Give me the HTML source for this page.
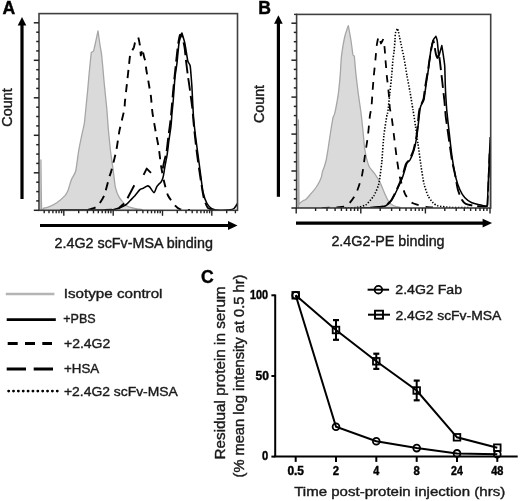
<!DOCTYPE html><html><head><meta charset="utf-8"><style>html,body{margin:0;padding:0;background:#fff;}svg{display:block;will-change:transform;}text{font-family:"Liberation Sans",sans-serif;}</style></head><body>
<svg width="520" height="501" viewBox="0 0 520 501">
<rect width="520" height="501" fill="#fff"/>
<defs>
<clipPath id="ca"><rect x="39" y="13.6" width="198.5" height="196.70000000000002"/></clipPath>
<clipPath id="cb"><rect x="296.6" y="14.4" width="194.09999999999997" height="193.6"/></clipPath>
</defs>
<g clip-path="url(#ca)">
<path d="M40.9,160.0 C41.0,164.8 41.3,202.8 41.6,207.6 C41.9,212.4 43.4,208.0 44.0,208.0 C44.6,208.0 46.2,207.8 47.5,207.3 C48.8,206.8 55.0,203.9 56.8,202.7 C58.6,201.5 64.1,196.6 65.2,195.4 C66.3,194.2 67.5,191.6 68.0,190.5 C68.5,189.4 69.4,185.7 69.8,184.6 C70.2,183.5 71.0,180.6 71.6,179.2 C72.2,177.8 75.0,173.8 75.7,171.0 C76.4,168.2 78.0,154.8 78.7,150.7 C79.4,146.6 82.2,133.2 82.8,130.4 C83.4,127.6 84.1,125.3 84.4,123.0 C84.7,120.7 85.7,110.2 86.0,107.0 C86.3,103.8 87.3,94.2 87.6,91.0 C87.9,87.8 88.7,78.6 89.0,75.0 C89.3,71.4 90.8,57.3 91.0,55.0 C91.2,52.7 91.4,52.7 91.4,52.4 C91.6,52.3 93.4,51.1 93.6,51.0 C93.7,50.4 94.6,47.0 95.0,45.0 C95.4,43.0 97.7,32.4 98.0,31.0 C98.2,32.4 99.7,42.8 100.0,45.0 C100.3,47.2 101.1,51.0 101.4,53.0 C101.7,55.0 102.3,62.2 102.6,65.0 C102.9,67.8 103.7,77.8 104.0,81.0 C104.3,84.2 105.3,94.0 105.6,97.0 C105.9,100.0 106.8,108.2 107.0,111.0 C107.2,113.8 107.7,121.0 108.0,125.0 C108.3,129.0 110.0,146.1 110.5,150.7 C111.0,155.3 112.8,167.3 113.3,171.0 C113.8,174.7 114.8,184.7 115.4,187.4 C116.0,190.1 118.3,195.8 119.4,197.6 C120.5,199.4 125.1,204.6 126.6,205.7 C128.1,206.8 133.2,208.1 134.7,208.5 C136.2,208.9 141.3,209.5 142.0,209.6 L142.0,210.3 L40.9,210.3 Z" fill="#dadada" stroke="#a6a6a6" stroke-width="1.3" stroke-linejoin="round"/>
<path d="M88.0,210.0 C88.5,209.8 92.0,208.9 93.0,208.5 C94.0,208.1 96.9,207.0 98.0,205.7 C99.1,204.4 103.1,198.4 104.2,195.5 C105.3,192.6 108.6,179.4 109.3,177.0 C110.0,174.6 110.6,173.7 111.3,171.0 C112.0,168.3 115.6,154.1 116.4,150.0 C117.2,145.9 118.7,134.4 119.5,130.4 C120.3,126.4 123.7,112.9 124.2,110.0 C124.8,107.1 124.7,103.7 125.0,101.0 C125.3,98.3 126.6,86.6 127.0,83.0 C127.4,79.4 128.7,67.7 129.0,65.0 C129.3,62.3 129.7,57.4 130.0,56.0 C130.3,54.6 131.4,52.1 131.8,51.2 C132.2,50.3 133.5,48.3 133.9,47.3 C134.3,46.2 135.0,41.7 135.4,40.7 C135.8,39.7 138.0,37.8 138.3,37.5 C138.5,38.2 139.6,43.2 139.8,45.0 C140.1,46.8 140.7,54.4 140.8,55.4 C141.0,54.7 142.2,49.5 142.3,48.8 C142.5,49.6 143.8,55.9 144.1,57.1 C144.4,58.4 145.1,59.9 145.3,61.3 C145.5,62.7 146.1,68.6 146.5,71.0 C146.9,73.4 148.6,82.4 149.0,85.0 C149.4,87.6 150.7,94.2 151.0,97.0 C151.3,99.8 152.0,109.5 152.5,113.0 C153.0,116.5 155.2,128.8 155.8,132.4 C156.4,136.0 158.4,145.4 158.9,148.7 C159.4,152.0 160.4,161.7 160.9,165.0 C161.4,168.3 163.3,178.2 164.0,181.3 C164.7,184.4 166.9,193.1 168.0,195.5 C169.1,197.9 174.0,204.3 175.2,205.7 C176.4,207.1 178.8,208.9 180.3,209.3 C181.8,209.7 189.0,209.9 190.0,210.0" fill="none" stroke="#000" stroke-width="1.9" stroke-dasharray="8,6.3" stroke-linecap="butt" stroke-linejoin="round"/>
<path d="M162.7,168.5 C162.9,167.8 163.9,162.7 164.3,161.0 C164.7,159.3 166.1,154.4 166.5,152.0 C166.9,149.6 167.9,140.0 168.3,137.0 C168.7,134.0 169.9,125.3 170.3,122.0 C170.7,118.7 171.7,107.8 172.0,104.0 C172.3,100.2 173.4,88.1 173.8,84.0 C174.2,79.9 175.6,66.9 176.0,63.0 C176.4,59.1 177.6,47.8 178.0,45.0 C178.4,42.2 179.6,35.9 180.0,35.0 C180.4,34.1 181.6,34.8 182.0,36.0 C182.4,37.2 184.1,44.7 184.5,47.0 C184.9,49.3 185.5,56.2 185.8,59.0 C186.1,61.8 187.4,72.0 187.8,75.0 C188.2,78.0 189.4,85.8 189.8,89.0 C190.2,92.2 191.8,103.7 192.2,107.0 C192.6,110.3 193.1,117.6 193.5,122.0 C193.9,126.4 195.9,145.4 196.6,150.7 C197.2,156.0 199.3,170.3 200.0,175.0 C200.7,179.7 202.9,194.3 203.7,197.6 C204.5,200.9 206.7,206.6 207.8,207.8 C208.9,209.0 214.3,209.8 215.0,210.0" fill="none" stroke="#000" stroke-width="1.9" stroke-dasharray="13,5" stroke-linecap="butt" stroke-linejoin="round"/>
<path d="M105,210 L112,209.6" fill="none" stroke="#000" stroke-width="1.9" stroke-linejoin="round"/>
<path d="M119,208 L124,203.5" fill="none" stroke="#000" stroke-width="1.9" stroke-linejoin="round"/>
<path d="M127.5,198.3 L134.3,185.3" fill="none" stroke="#000" stroke-width="1.9" stroke-linejoin="round"/>
<path d="M143.6,174.8 L146.7,168.6 L151,172.9" fill="none" stroke="#000" stroke-width="1.9" stroke-linejoin="round"/>
<path d="M60.0,210.0 C64.0,210.0 94.6,210.0 100.0,210.0 C105.4,210.0 111.4,210.1 114.0,209.6 C116.6,209.1 124.0,205.9 125.6,205.0 C127.2,204.1 129.1,201.6 130.0,200.7 C130.9,199.8 133.9,196.9 134.9,195.8 C135.9,194.7 139.1,190.3 139.9,189.6 C140.7,188.9 142.2,188.8 142.9,188.4 C143.6,188.0 146.6,186.0 147.3,185.9 C148.0,185.8 149.1,186.4 149.8,187.1 C150.5,187.8 153.4,192.7 154.1,192.7 C154.8,192.7 156.2,187.9 156.6,187.1 C157.0,186.3 158.0,185.2 158.4,184.7 C158.8,184.2 160.5,182.8 160.9,182.2 C161.3,181.6 162.4,179.5 162.7,178.5 C163.0,177.5 163.8,173.7 164.0,172.3 C164.2,170.9 164.9,166.6 165.2,164.9 C165.5,163.2 166.7,157.5 167.1,155.0 C167.5,152.5 168.6,142.9 169.0,140.0 C169.4,137.1 170.7,128.7 171.0,126.0 C171.3,123.3 171.8,115.5 172.0,113.0 C172.2,110.5 172.9,104.6 173.2,101.0 C173.5,97.4 174.6,80.8 175.0,77.0 C175.4,73.2 176.6,66.4 177.0,63.0 C177.4,59.6 178.5,46.0 179.0,43.0 C179.5,40.0 181.6,34.0 181.9,33.0 C182.2,34.0 184.2,40.2 184.8,43.0 C185.4,45.8 187.3,58.7 187.8,61.0 C188.3,63.3 189.8,63.6 190.2,66.0 C190.6,68.4 191.5,81.1 191.8,85.0 C192.1,88.9 192.6,101.5 192.8,104.8 C193.0,108.1 193.3,114.5 193.6,118.0 C193.9,121.5 195.4,135.2 196.0,140.0 C196.6,144.8 198.8,160.8 199.5,166.0 C200.2,171.2 202.2,188.2 203.0,192.0 C203.8,195.8 206.1,201.8 207.0,203.5 C207.9,205.2 211.0,208.2 212.0,208.8 C213.0,209.5 215.2,209.9 217.0,210.0 C218.8,210.1 228.3,210.0 230.0,209.8 C231.7,209.7 233.2,209.1 234.0,208.5 C234.8,207.9 237.2,204.0 237.5,203.5" fill="none" stroke="#000" stroke-width="1.55" stroke-linejoin="round"/>
</g>
<rect x="39" y="13.6" width="198.5" height="196.70000000000002" fill="none" stroke="#404040" stroke-width="1.6"/>
<line x1="33.8" y1="22.8" x2="39" y2="22.8" stroke="#222" stroke-width="1.5"/>
<line x1="36.2" y1="32.2" x2="39" y2="32.2" stroke="#222" stroke-width="1.5"/>
<line x1="36.2" y1="41.5" x2="39" y2="41.5" stroke="#222" stroke-width="1.5"/>
<line x1="36.2" y1="50.9" x2="39" y2="50.9" stroke="#222" stroke-width="1.5"/>
<line x1="33.8" y1="60.3" x2="39" y2="60.3" stroke="#222" stroke-width="1.5"/>
<line x1="36.2" y1="69.7" x2="39" y2="69.7" stroke="#222" stroke-width="1.5"/>
<line x1="36.2" y1="79.0" x2="39" y2="79.0" stroke="#222" stroke-width="1.5"/>
<line x1="36.2" y1="88.4" x2="39" y2="88.4" stroke="#222" stroke-width="1.5"/>
<line x1="33.8" y1="97.8" x2="39" y2="97.8" stroke="#222" stroke-width="1.5"/>
<line x1="36.2" y1="107.2" x2="39" y2="107.2" stroke="#222" stroke-width="1.5"/>
<line x1="36.2" y1="116.5" x2="39" y2="116.5" stroke="#222" stroke-width="1.5"/>
<line x1="36.2" y1="125.9" x2="39" y2="125.9" stroke="#222" stroke-width="1.5"/>
<line x1="33.8" y1="135.3" x2="39" y2="135.3" stroke="#222" stroke-width="1.5"/>
<line x1="36.2" y1="144.7" x2="39" y2="144.7" stroke="#222" stroke-width="1.5"/>
<line x1="36.2" y1="154.1" x2="39" y2="154.1" stroke="#222" stroke-width="1.5"/>
<line x1="36.2" y1="163.4" x2="39" y2="163.4" stroke="#222" stroke-width="1.5"/>
<line x1="33.8" y1="172.8" x2="39" y2="172.8" stroke="#222" stroke-width="1.5"/>
<line x1="36.2" y1="182.2" x2="39" y2="182.2" stroke="#222" stroke-width="1.5"/>
<line x1="36.2" y1="191.6" x2="39" y2="191.6" stroke="#222" stroke-width="1.5"/>
<line x1="36.2" y1="200.9" x2="39" y2="200.9" stroke="#222" stroke-width="1.5"/>
<line x1="33.8" y1="210.3" x2="39" y2="210.3" stroke="#222" stroke-width="1.5"/>
<line x1="44.2" y1="210.3" x2="44.2" y2="213.3" stroke="#222" stroke-width="1.4"/>
<line x1="49.0" y1="210.3" x2="49.0" y2="213.3" stroke="#222" stroke-width="1.4"/>
<line x1="52.9" y1="210.3" x2="52.9" y2="213.3" stroke="#222" stroke-width="1.4"/>
<line x1="56.2" y1="210.3" x2="56.2" y2="213.3" stroke="#222" stroke-width="1.4"/>
<line x1="59.0" y1="210.3" x2="59.0" y2="213.3" stroke="#222" stroke-width="1.4"/>
<line x1="61.6" y1="210.3" x2="61.6" y2="213.3" stroke="#222" stroke-width="1.4"/>
<line x1="63.8" y1="210.3" x2="63.8" y2="215.8" stroke="#222" stroke-width="1.4"/>
<line x1="78.7" y1="210.3" x2="78.7" y2="213.3" stroke="#222" stroke-width="1.4"/>
<line x1="87.4" y1="210.3" x2="87.4" y2="213.3" stroke="#222" stroke-width="1.4"/>
<line x1="93.5" y1="210.3" x2="93.5" y2="213.3" stroke="#222" stroke-width="1.4"/>
<line x1="98.3" y1="210.3" x2="98.3" y2="213.3" stroke="#222" stroke-width="1.4"/>
<line x1="102.2" y1="210.3" x2="102.2" y2="213.3" stroke="#222" stroke-width="1.4"/>
<line x1="105.5" y1="210.3" x2="105.5" y2="213.3" stroke="#222" stroke-width="1.4"/>
<line x1="108.4" y1="210.3" x2="108.4" y2="213.3" stroke="#222" stroke-width="1.4"/>
<line x1="110.9" y1="210.3" x2="110.9" y2="213.3" stroke="#222" stroke-width="1.4"/>
<line x1="113.2" y1="210.3" x2="113.2" y2="215.8" stroke="#222" stroke-width="1.4"/>
<line x1="128.0" y1="210.3" x2="128.0" y2="213.3" stroke="#222" stroke-width="1.4"/>
<line x1="136.7" y1="210.3" x2="136.7" y2="213.3" stroke="#222" stroke-width="1.4"/>
<line x1="142.9" y1="210.3" x2="142.9" y2="213.3" stroke="#222" stroke-width="1.4"/>
<line x1="147.6" y1="210.3" x2="147.6" y2="213.3" stroke="#222" stroke-width="1.4"/>
<line x1="151.5" y1="210.3" x2="151.5" y2="213.3" stroke="#222" stroke-width="1.4"/>
<line x1="154.8" y1="210.3" x2="154.8" y2="213.3" stroke="#222" stroke-width="1.4"/>
<line x1="157.7" y1="210.3" x2="157.7" y2="213.3" stroke="#222" stroke-width="1.4"/>
<line x1="160.2" y1="210.3" x2="160.2" y2="213.3" stroke="#222" stroke-width="1.4"/>
<line x1="162.5" y1="210.3" x2="162.5" y2="215.8" stroke="#222" stroke-width="1.4"/>
<line x1="177.3" y1="210.3" x2="177.3" y2="213.3" stroke="#222" stroke-width="1.4"/>
<line x1="186.0" y1="210.3" x2="186.0" y2="213.3" stroke="#222" stroke-width="1.4"/>
<line x1="192.2" y1="210.3" x2="192.2" y2="213.3" stroke="#222" stroke-width="1.4"/>
<line x1="197.0" y1="210.3" x2="197.0" y2="213.3" stroke="#222" stroke-width="1.4"/>
<line x1="200.9" y1="210.3" x2="200.9" y2="213.3" stroke="#222" stroke-width="1.4"/>
<line x1="204.2" y1="210.3" x2="204.2" y2="213.3" stroke="#222" stroke-width="1.4"/>
<line x1="207.0" y1="210.3" x2="207.0" y2="213.3" stroke="#222" stroke-width="1.4"/>
<line x1="209.6" y1="210.3" x2="209.6" y2="213.3" stroke="#222" stroke-width="1.4"/>
<line x1="211.8" y1="210.3" x2="211.8" y2="215.8" stroke="#222" stroke-width="1.4"/>
<line x1="226.7" y1="210.3" x2="226.7" y2="213.3" stroke="#222" stroke-width="1.4"/>
<line x1="235.4" y1="210.3" x2="235.4" y2="213.3" stroke="#222" stroke-width="1.4"/>
<line x1="22" y1="24" x2="22" y2="199" stroke="#000" stroke-width="3.2"/>
<polygon points="17.7,25.5 26.3,25.5 22,17" fill="#000"/>
<line x1="40" y1="225.5" x2="229.5" y2="225.5" stroke="#000" stroke-width="3.2"/>
<polygon points="228.0,221.1 228.0,229.9 237.5,225.5" fill="#000"/>
<text x="2.6" y="13.6" font-size="17.6" font-weight="bold" text-anchor="start" fill="#000" stroke="#000" stroke-width="0.4">A</text>
<text x="12.1" y="107.5" font-size="13.8" font-weight="normal" text-anchor="middle" fill="#1a1a1a" stroke="#1a1a1a" stroke-width="0.4" textLength="38.5" lengthAdjust="spacingAndGlyphs" transform="rotate(-90 12.1 107.5)">Count</text>
<text x="54.5" y="248.1" font-size="13.9" font-weight="normal" text-anchor="start" fill="#1a1a1a" stroke="#1a1a1a" stroke-width="0.4" textLength="158.4" lengthAdjust="spacingAndGlyphs">2.4G2 scFv-MSA binding</text>
<g clip-path="url(#cb)">
<path d="M298.4,120.0 C298.5,128.0 298.9,191.7 299.0,200.0 C299.1,208.3 299.3,202.9 299.7,203.0 C300.1,203.1 302.7,200.9 303.3,200.5 C303.9,200.1 305.3,199.9 305.9,199.4 C306.5,198.9 308.9,196.1 309.6,195.3 C310.3,194.5 312.5,191.9 313.2,191.1 C313.9,190.3 315.7,187.9 316.3,187.0 C316.9,186.1 318.9,182.8 319.4,181.8 C319.9,180.8 321.2,177.6 321.5,176.6 C321.8,175.6 322.2,172.3 322.5,171.4 C322.8,170.5 323.7,168.4 324.1,167.3 C324.5,166.2 325.8,161.7 326.2,160.0 C326.6,158.3 327.4,153.0 327.9,150.0 C328.4,147.0 330.4,133.2 330.9,130.0 C331.4,126.8 332.7,119.2 332.9,118.0 C333.1,117.6 334.3,114.4 334.5,114.0 C334.6,113.6 335.1,112.0 335.5,110.0 C335.9,108.0 337.8,97.4 338.3,93.8 C338.8,90.2 340.0,77.7 340.3,73.9 C340.6,70.1 341.0,59.7 341.5,55.9 C342.0,52.1 344.2,39.0 344.9,36.0 C345.6,33.0 348.0,26.6 348.3,25.6 C348.6,27.0 350.4,37.1 350.9,40.0 C351.4,42.9 352.7,53.4 352.9,54.9 C353.0,55.0 354.2,55.9 354.3,56.0 C354.5,57.8 355.5,70.1 355.9,73.9 C356.3,77.7 357.8,90.0 358.3,93.8 C358.8,97.6 360.4,108.4 360.9,112.0 C361.4,115.6 362.5,126.2 362.9,130.0 C363.3,133.8 364.3,146.4 364.9,150.0 C365.5,153.6 367.9,163.5 368.9,165.9 C369.9,168.3 373.7,172.3 374.8,173.9 C375.9,175.5 378.8,179.9 379.8,181.9 C380.8,183.9 383.9,191.8 384.8,193.8 C385.7,195.8 387.9,200.6 388.8,201.8 C389.7,203.0 392.7,205.2 393.8,205.8 C394.9,206.4 399.4,207.2 400.0,207.3 L400.0,208.0 L298.4,208.0 Z" fill="#dadada" stroke="#a6a6a6" stroke-width="1.3" stroke-linejoin="round"/>
<path d="M322.0,207.8 C323.3,207.8 332.5,207.6 335.0,207.4 C337.5,207.2 344.8,207.2 346.9,205.8 C349.0,204.4 354.4,196.8 355.9,193.8 C357.4,190.8 361.0,179.7 361.9,175.9 C362.8,172.1 364.3,159.9 364.9,155.9 C365.5,151.9 367.4,140.0 367.9,136.0 C368.4,132.0 369.5,118.8 369.9,116.0 C370.2,113.2 371.1,110.0 371.4,107.8 C371.6,105.6 372.2,97.0 372.4,93.8 C372.6,90.6 373.5,79.3 373.8,75.9 C374.1,72.5 375.1,63.1 375.4,60.0 C375.7,56.9 376.5,47.4 376.8,45.0 C377.1,42.6 378.3,37.4 378.5,36.5 C378.8,37.2 380.8,42.8 381.0,43.5 C381.2,43.0 383.1,39.5 383.3,39.0 C383.4,39.8 384.3,45.3 384.5,47.0 C384.7,48.7 385.1,54.1 385.2,56.0 C385.3,57.9 385.8,64.0 386.0,66.0 C386.2,68.0 386.5,73.1 386.8,75.9 C387.1,78.7 388.5,90.6 388.8,93.8 C389.1,97.0 389.5,105.4 389.8,107.8 C390.1,110.2 391.4,115.2 391.8,118.0 C392.2,120.8 393.5,131.8 394.0,136.0 C394.5,140.2 396.4,155.8 397.0,160.0 C397.6,164.2 399.2,174.5 400.0,177.9 C400.8,181.3 403.8,191.3 405.0,193.8 C406.2,196.3 409.9,201.5 412.0,202.8 C414.1,204.1 423.2,206.3 426.0,206.8 C428.8,207.3 438.6,207.5 440.0,207.6" fill="none" stroke="#000" stroke-width="1.8" stroke-dasharray="7.6,7" stroke-linecap="butt" stroke-linejoin="round"/>
<path d="M345.0,207.8 C346.1,207.8 353.8,207.9 355.9,207.6 C358.0,207.3 364.1,206.0 365.9,204.8 C367.7,203.6 372.5,197.9 373.8,195.8 C375.1,193.7 378.0,187.3 378.8,183.9 C379.6,180.5 381.3,166.7 381.8,161.9 C382.3,157.1 383.3,140.6 383.8,136.0 C384.3,131.4 386.4,118.4 386.8,116.0 C387.2,113.6 387.5,114.0 387.8,111.8 C388.1,109.6 389.4,97.6 389.8,93.8 C390.2,90.0 391.5,77.5 391.8,74.0 C392.1,70.5 392.8,61.2 393.0,59.0 C393.2,56.8 393.8,53.9 394.0,52.0 C394.2,50.1 394.9,41.9 395.0,40.0 C395.1,38.1 395.2,34.1 395.5,33.0 C395.8,31.9 397.3,28.9 397.5,28.5 C397.6,28.9 398.3,31.1 398.5,32.0 C398.7,32.9 399.2,35.8 399.5,37.0 C399.8,38.2 400.6,41.9 401.0,44.0 C401.4,46.1 403.4,54.7 404.0,57.9 C404.6,61.1 406.4,72.5 407.0,75.9 C407.6,79.3 409.4,88.4 410.0,91.8 C410.6,95.2 412.4,106.6 413.0,110.0 C413.6,113.4 415.0,122.6 415.5,126.0 C416.0,129.4 417.4,140.0 418.0,144.0 C418.6,148.0 420.4,161.9 421.0,165.9 C421.6,169.9 423.3,180.9 424.0,183.9 C424.7,186.9 427.1,193.9 428.0,195.8 C428.9,197.7 432.0,201.8 433.0,202.8 C434.0,203.8 436.2,205.3 437.9,205.8 C439.6,206.3 446.8,207.2 450.0,207.4 C453.2,207.6 468.0,207.6 470.0,207.6" fill="none" stroke="#000" stroke-width="1.6" stroke-dasharray="1.4,1.6" stroke-linecap="butt" stroke-linejoin="round"/>
<path d="M370.0,207.8 C371.4,207.6 381.9,206.9 384.0,206.2 C386.1,205.5 389.7,202.2 391.0,200.5 C392.3,198.8 395.9,191.3 397.0,189.0 C398.1,186.7 401.1,179.5 402.0,177.0 C402.9,174.5 405.2,165.8 406.0,164.0 C406.8,162.2 408.8,160.9 409.5,159.5 C410.2,158.1 412.8,152.3 413.5,150.0 C414.2,147.7 415.9,139.8 416.5,136.0 C417.1,132.2 418.6,115.0 419.0,112.0 C419.4,109.0 420.1,107.3 420.5,106.0 C420.9,104.7 423.1,100.8 423.5,99.0 C423.9,97.2 424.6,90.9 425.0,88.0 C425.4,85.1 427.5,73.0 428.0,70.0 C428.5,67.0 429.4,60.2 429.8,58.0 C430.2,55.8 431.1,49.7 431.5,48.0 C431.9,46.3 433.0,40.0 433.4,40.6 C433.8,41.2 435.5,52.3 435.9,54.0 C436.3,55.7 437.2,58.0 437.5,58.0 C437.8,58.0 438.6,52.8 438.9,54.0 C439.2,55.2 440.6,67.1 440.9,69.9 C441.2,72.7 442.0,78.9 442.3,81.9 C442.6,84.9 443.9,96.2 444.3,99.8 C444.7,103.4 445.5,114.8 445.9,118.0 C446.3,121.2 447.3,127.8 447.9,132.0 C448.5,136.2 451.2,155.8 451.9,160.0 C452.6,164.2 454.3,170.9 454.9,173.9 C455.5,176.9 457.2,187.2 457.9,189.8 C458.6,192.4 461.1,198.4 461.9,199.8 C462.7,201.2 464.5,203.2 465.8,203.8 C467.1,204.4 473.0,205.7 475.0,206.0 C477.0,206.3 484.8,206.6 486.0,206.5 C487.2,206.4 487.4,205.6 487.5,205.5" fill="none" stroke="#000" stroke-width="1.9" stroke-dasharray="13,5" stroke-linecap="butt" stroke-linejoin="round"/>
<path d="M360.0,207.8 C361.5,207.8 372.4,207.7 375.0,207.5 C377.6,207.3 384.1,206.6 385.8,205.8 C387.5,205.0 390.8,201.6 392.0,199.8 C393.2,198.0 396.9,190.2 398.0,187.8 C399.1,185.4 402.1,178.4 403.0,175.9 C403.9,173.4 406.3,164.5 407.0,162.9 C407.7,161.3 409.3,161.3 410.0,160.0 C410.7,158.7 413.3,152.4 414.0,150.0 C414.7,147.6 416.3,140.0 416.9,136.0 C417.5,132.0 419.5,113.0 419.9,110.0 C420.3,107.0 420.5,106.8 420.9,105.8 C421.3,104.8 423.4,101.8 423.9,99.8 C424.4,97.8 425.4,89.3 425.9,85.9 C426.4,82.5 428.4,69.5 428.9,65.9 C429.4,62.3 430.4,52.6 430.9,50.0 C431.3,47.4 432.9,41.1 433.4,39.7 C433.9,38.3 435.6,36.7 435.9,36.4 C436.0,36.8 436.9,38.6 437.2,40.6 C437.5,42.6 438.6,54.9 438.8,56.5 C439.1,55.4 441.5,46.7 441.8,45.6 C441.9,46.3 442.7,51.0 443.0,53.0 C443.3,55.0 444.5,62.9 444.7,65.8 C444.9,68.7 445.1,78.8 445.2,82.0 C445.3,85.2 445.7,94.8 445.9,97.8 C446.1,100.8 446.6,108.6 446.9,111.8 C447.2,115.0 448.4,125.6 448.9,130.0 C449.4,134.4 451.2,151.1 451.9,155.9 C452.6,160.7 455.1,174.5 455.9,177.9 C456.7,181.3 459.0,187.8 459.9,189.8 C460.8,191.8 463.7,196.5 464.9,197.8 C466.1,199.1 470.3,202.1 471.8,202.8 C473.3,203.5 478.4,204.5 479.8,204.8 C481.2,205.2 485.1,206.2 485.8,206.3 C486.6,206.4 487.2,205.6 487.3,205.5" fill="none" stroke="#000" stroke-width="1.55" stroke-linejoin="round"/>
<path d="M487.3,205.5 L490.2,137 L490.6,207.8" fill="none" stroke="#000" stroke-width="1.5" stroke-linejoin="miter"/>
<path d="M487.5,205.5 L489.6,150" fill="none" stroke="#000" stroke-width="1.6" stroke-dasharray="10,4"/>
</g>
<rect x="296.6" y="14.4" width="194.09999999999997" height="193.6" fill="none" stroke="#404040" stroke-width="1.6"/>
<line x1="291.4" y1="23.2" x2="296.6" y2="23.2" stroke="#222" stroke-width="1.5"/>
<line x1="293.8" y1="32.4" x2="296.6" y2="32.4" stroke="#222" stroke-width="1.5"/>
<line x1="293.8" y1="41.7" x2="296.6" y2="41.7" stroke="#222" stroke-width="1.5"/>
<line x1="293.8" y1="50.9" x2="296.6" y2="50.9" stroke="#222" stroke-width="1.5"/>
<line x1="291.4" y1="60.2" x2="296.6" y2="60.2" stroke="#222" stroke-width="1.5"/>
<line x1="293.8" y1="69.4" x2="296.6" y2="69.4" stroke="#222" stroke-width="1.5"/>
<line x1="293.8" y1="78.6" x2="296.6" y2="78.6" stroke="#222" stroke-width="1.5"/>
<line x1="293.8" y1="87.9" x2="296.6" y2="87.9" stroke="#222" stroke-width="1.5"/>
<line x1="291.4" y1="97.1" x2="296.6" y2="97.1" stroke="#222" stroke-width="1.5"/>
<line x1="293.8" y1="106.4" x2="296.6" y2="106.4" stroke="#222" stroke-width="1.5"/>
<line x1="293.8" y1="115.6" x2="296.6" y2="115.6" stroke="#222" stroke-width="1.5"/>
<line x1="293.8" y1="124.8" x2="296.6" y2="124.8" stroke="#222" stroke-width="1.5"/>
<line x1="291.4" y1="134.1" x2="296.6" y2="134.1" stroke="#222" stroke-width="1.5"/>
<line x1="293.8" y1="143.3" x2="296.6" y2="143.3" stroke="#222" stroke-width="1.5"/>
<line x1="293.8" y1="152.6" x2="296.6" y2="152.6" stroke="#222" stroke-width="1.5"/>
<line x1="293.8" y1="161.8" x2="296.6" y2="161.8" stroke="#222" stroke-width="1.5"/>
<line x1="291.4" y1="171.0" x2="296.6" y2="171.0" stroke="#222" stroke-width="1.5"/>
<line x1="293.8" y1="180.3" x2="296.6" y2="180.3" stroke="#222" stroke-width="1.5"/>
<line x1="293.8" y1="189.5" x2="296.6" y2="189.5" stroke="#222" stroke-width="1.5"/>
<line x1="293.8" y1="198.8" x2="296.6" y2="198.8" stroke="#222" stroke-width="1.5"/>
<line x1="291.4" y1="208.0" x2="296.6" y2="208.0" stroke="#222" stroke-width="1.5"/>
<line x1="296.2" y1="208.0" x2="296.2" y2="213.5" stroke="#222" stroke-width="1.4"/>
<line x1="315.6" y1="208.0" x2="315.6" y2="211.0" stroke="#222" stroke-width="1.4"/>
<line x1="327.0" y1="208.0" x2="327.0" y2="211.0" stroke="#222" stroke-width="1.4"/>
<line x1="335.1" y1="208.0" x2="335.1" y2="211.0" stroke="#222" stroke-width="1.4"/>
<line x1="341.4" y1="208.0" x2="341.4" y2="211.0" stroke="#222" stroke-width="1.4"/>
<line x1="346.5" y1="208.0" x2="346.5" y2="211.0" stroke="#222" stroke-width="1.4"/>
<line x1="350.8" y1="208.0" x2="350.8" y2="211.0" stroke="#222" stroke-width="1.4"/>
<line x1="354.5" y1="208.0" x2="354.5" y2="211.0" stroke="#222" stroke-width="1.4"/>
<line x1="357.8" y1="208.0" x2="357.8" y2="211.0" stroke="#222" stroke-width="1.4"/>
<line x1="360.8" y1="208.0" x2="360.8" y2="213.5" stroke="#222" stroke-width="1.4"/>
<line x1="380.2" y1="208.0" x2="380.2" y2="211.0" stroke="#222" stroke-width="1.4"/>
<line x1="391.6" y1="208.0" x2="391.6" y2="211.0" stroke="#222" stroke-width="1.4"/>
<line x1="399.7" y1="208.0" x2="399.7" y2="211.0" stroke="#222" stroke-width="1.4"/>
<line x1="406.0" y1="208.0" x2="406.0" y2="211.0" stroke="#222" stroke-width="1.4"/>
<line x1="411.1" y1="208.0" x2="411.1" y2="211.0" stroke="#222" stroke-width="1.4"/>
<line x1="415.4" y1="208.0" x2="415.4" y2="211.0" stroke="#222" stroke-width="1.4"/>
<line x1="419.1" y1="208.0" x2="419.1" y2="211.0" stroke="#222" stroke-width="1.4"/>
<line x1="422.4" y1="208.0" x2="422.4" y2="211.0" stroke="#222" stroke-width="1.4"/>
<line x1="425.4" y1="208.0" x2="425.4" y2="213.5" stroke="#222" stroke-width="1.4"/>
<line x1="444.8" y1="208.0" x2="444.8" y2="211.0" stroke="#222" stroke-width="1.4"/>
<line x1="456.2" y1="208.0" x2="456.2" y2="211.0" stroke="#222" stroke-width="1.4"/>
<line x1="464.3" y1="208.0" x2="464.3" y2="211.0" stroke="#222" stroke-width="1.4"/>
<line x1="470.6" y1="208.0" x2="470.6" y2="211.0" stroke="#222" stroke-width="1.4"/>
<line x1="475.7" y1="208.0" x2="475.7" y2="211.0" stroke="#222" stroke-width="1.4"/>
<line x1="480.0" y1="208.0" x2="480.0" y2="211.0" stroke="#222" stroke-width="1.4"/>
<line x1="483.7" y1="208.0" x2="483.7" y2="211.0" stroke="#222" stroke-width="1.4"/>
<line x1="487.0" y1="208.0" x2="487.0" y2="211.0" stroke="#222" stroke-width="1.4"/>
<line x1="490.0" y1="208.0" x2="490.0" y2="213.5" stroke="#222" stroke-width="1.4"/>
<line x1="278.4" y1="22.2" x2="278.4" y2="196.8" stroke="#000" stroke-width="3.2"/>
<polygon points="274.09999999999997,23.7 282.7,23.7 278.4,15.2" fill="#000"/>
<line x1="296" y1="223.1" x2="484.1" y2="223.1" stroke="#000" stroke-width="3.2"/>
<polygon points="482.6,218.7 482.6,227.5 492.1,223.1" fill="#000"/>
<line x1="294" y1="14.4" x2="297" y2="14.4" stroke="#333" stroke-width="1.4"/>
<text x="258.2" y="13.8" font-size="17.6" font-weight="bold" text-anchor="start" fill="#000" stroke="#000" stroke-width="0.4">B</text>
<text x="264.3" y="104" font-size="13.8" font-weight="normal" text-anchor="middle" fill="#1a1a1a" stroke="#1a1a1a" stroke-width="0.4" textLength="38.2" lengthAdjust="spacingAndGlyphs" transform="rotate(-90 264.3 104)">Count</text>
<text x="331.4" y="245.9" font-size="13.9" font-weight="normal" text-anchor="start" fill="#1a1a1a" stroke="#1a1a1a" stroke-width="0.4" textLength="113.2" lengthAdjust="spacingAndGlyphs">2.4G2-PE binding</text>
<line x1="5.8" y1="294" x2="54.4" y2="294" stroke="#b4b4b4" stroke-width="2.6"/>
<line x1="6.7" y1="319.6" x2="55.8" y2="319.6" stroke="#000" stroke-width="2.8"/>
<line x1="7.7" y1="343.5" x2="52" y2="343.5" stroke="#000" stroke-width="3.2" stroke-dasharray="10,7.3"/>
<line x1="6.7" y1="369" x2="53" y2="369" stroke="#000" stroke-width="3" stroke-dasharray="19.3,7.7"/>
<line x1="8.65" y1="391.1" x2="58" y2="391.1" stroke="#000" stroke-width="2.9" stroke-dasharray="0.01,4.85" stroke-linecap="round"/>
<text x="63.7" y="298.4" font-size="13.6" font-weight="normal" text-anchor="start" fill="#1a1a1a" stroke="#1a1a1a" stroke-width="0.4" textLength="98.8" lengthAdjust="spacingAndGlyphs">Isotype control</text>
<text x="63.3" y="322.6" font-size="13.6" font-weight="normal" text-anchor="start" fill="#1a1a1a" stroke="#1a1a1a" stroke-width="0.4" textLength="32.4" lengthAdjust="spacingAndGlyphs">+PBS</text>
<text x="64.0" y="348.4" font-size="13.6" font-weight="normal" text-anchor="start" fill="#1a1a1a" stroke="#1a1a1a" stroke-width="0.4" textLength="46.3" lengthAdjust="spacingAndGlyphs">+2.4G2</text>
<text x="64.0" y="372.7" font-size="13.6" font-weight="normal" text-anchor="start" fill="#1a1a1a" stroke="#1a1a1a" stroke-width="0.4" textLength="35.2" lengthAdjust="spacingAndGlyphs">+HSA</text>
<text x="64.0" y="396.0" font-size="13.6" font-weight="normal" text-anchor="start" fill="#1a1a1a" stroke="#1a1a1a" stroke-width="0.4" textLength="113.8" lengthAdjust="spacingAndGlyphs">+2.4G2 scFv-MSA</text>
<text x="201.0" y="282.6" font-size="17.6" font-weight="bold" text-anchor="start" fill="#000" stroke="#000" stroke-width="0.4">C</text>
<line x1="275.2" y1="294.5" x2="275.2" y2="456.6" stroke="#000" stroke-width="2"/>
<line x1="274.2" y1="456.6" x2="517.7" y2="456.6" stroke="#000" stroke-width="2"/>
<line x1="271.4" y1="456.6" x2="275.2" y2="456.6" stroke="#000" stroke-width="2"/>
<line x1="271.4" y1="376.0" x2="275.2" y2="376.0" stroke="#000" stroke-width="2"/>
<line x1="271.4" y1="295.3" x2="275.2" y2="295.3" stroke="#000" stroke-width="2"/>
<line x1="295.7" y1="456.6" x2="295.7" y2="461.90000000000003" stroke="#000" stroke-width="2"/>
<line x1="336.0" y1="456.6" x2="336.0" y2="461.90000000000003" stroke="#000" stroke-width="2"/>
<line x1="376.3" y1="456.6" x2="376.3" y2="461.90000000000003" stroke="#000" stroke-width="2"/>
<line x1="416.7" y1="456.6" x2="416.7" y2="461.90000000000003" stroke="#000" stroke-width="2"/>
<line x1="457.0" y1="456.6" x2="457.0" y2="461.90000000000003" stroke="#000" stroke-width="2"/>
<line x1="497.3" y1="456.6" x2="497.3" y2="461.90000000000003" stroke="#000" stroke-width="2"/>
<text x="268.1" y="298.9" font-size="12.0" font-weight="bold" text-anchor="end" fill="#000" stroke="#000" stroke-width="0.4" textLength="18.1" lengthAdjust="spacingAndGlyphs">100</text>
<text x="268.9" y="380.2" font-size="12.0" font-weight="bold" text-anchor="end" fill="#000" stroke="#000" stroke-width="0.4" textLength="13.4" lengthAdjust="spacingAndGlyphs">50</text>
<text x="268.3" y="460.4" font-size="12.0" font-weight="bold" text-anchor="end" fill="#000" stroke="#000" stroke-width="0.4" textLength="6.2" lengthAdjust="spacingAndGlyphs">0</text>
<text x="295.7" y="474.6" font-size="12.0" font-weight="bold" text-anchor="middle" fill="#000" stroke="#000" stroke-width="0.4" textLength="16.6" lengthAdjust="spacingAndGlyphs">0.5</text>
<text x="336.0" y="474.6" font-size="12.0" font-weight="bold" text-anchor="middle" fill="#000" stroke="#000" stroke-width="0.4" textLength="6.3" lengthAdjust="spacingAndGlyphs">2</text>
<text x="376.3" y="474.6" font-size="12.0" font-weight="bold" text-anchor="middle" fill="#000" stroke="#000" stroke-width="0.4" textLength="6.0" lengthAdjust="spacingAndGlyphs">4</text>
<text x="416.7" y="474.6" font-size="12.0" font-weight="bold" text-anchor="middle" fill="#000" stroke="#000" stroke-width="0.4" textLength="6.3" lengthAdjust="spacingAndGlyphs">8</text>
<text x="457.0" y="474.6" font-size="12.0" font-weight="bold" text-anchor="middle" fill="#000" stroke="#000" stroke-width="0.4" textLength="11.8" lengthAdjust="spacingAndGlyphs">24</text>
<text x="497.3" y="474.6" font-size="12.0" font-weight="bold" text-anchor="middle" fill="#000" stroke="#000" stroke-width="0.4" textLength="12.2" lengthAdjust="spacingAndGlyphs">48</text>
<path d="M295.7,295.3 L336.0,426.8 L376.3,441.3 L416.7,448.1 L457.0,453.4 L497.3,454.2" fill="none" stroke="#000" stroke-width="2"/>
<path d="M295.7,295.3 L336.0,330.0 L376.3,361.3 L416.7,390.5 L457.0,437.3 L497.3,447.7" fill="none" stroke="#000" stroke-width="2"/>
<line x1="336.0" y1="320.1" x2="336.0" y2="339.8" stroke="#000" stroke-width="2"/>
<line x1="333.0" y1="320.1" x2="339.0" y2="320.1" stroke="#000" stroke-width="2.2"/>
<line x1="333.0" y1="339.8" x2="339.0" y2="339.8" stroke="#000" stroke-width="2.2"/>
<line x1="376.3" y1="353.7" x2="376.3" y2="368.9" stroke="#000" stroke-width="2"/>
<line x1="373.3" y1="353.7" x2="379.3" y2="353.7" stroke="#000" stroke-width="2.2"/>
<line x1="373.3" y1="368.9" x2="379.3" y2="368.9" stroke="#000" stroke-width="2.2"/>
<line x1="416.7" y1="380.6" x2="416.7" y2="400.3" stroke="#000" stroke-width="2"/>
<line x1="413.7" y1="380.6" x2="419.7" y2="380.6" stroke="#000" stroke-width="2.2"/>
<line x1="413.7" y1="400.3" x2="419.7" y2="400.3" stroke="#000" stroke-width="2.2"/>
<circle cx="295.7" cy="295.3" r="3.4" fill="none" stroke="#000" stroke-width="1.8"/>
<circle cx="336.0" cy="426.8" r="3.4" fill="none" stroke="#000" stroke-width="1.8"/>
<circle cx="376.3" cy="441.3" r="3.4" fill="none" stroke="#000" stroke-width="1.8"/>
<circle cx="416.7" cy="448.1" r="3.4" fill="none" stroke="#000" stroke-width="1.8"/>
<circle cx="457.0" cy="453.4" r="3.4" fill="none" stroke="#000" stroke-width="1.8"/>
<circle cx="497.3" cy="454.2" r="3.4" fill="none" stroke="#000" stroke-width="1.8"/>
<rect x="292.4" y="292.0" width="6.6" height="6.6" fill="none" stroke="#000" stroke-width="1.8"/>
<rect x="332.7" y="326.7" width="6.6" height="6.6" fill="none" stroke="#000" stroke-width="1.8"/>
<rect x="373.0" y="358.0" width="6.6" height="6.6" fill="none" stroke="#000" stroke-width="1.8"/>
<rect x="413.4" y="387.2" width="6.6" height="6.6" fill="none" stroke="#000" stroke-width="1.8"/>
<rect x="453.7" y="434.0" width="6.6" height="6.6" fill="none" stroke="#000" stroke-width="1.8"/>
<rect x="494.0" y="444.4" width="6.6" height="6.6" fill="none" stroke="#000" stroke-width="1.8"/>
<line x1="367.6" y1="289.7" x2="389.1" y2="289.7" stroke="#000" stroke-width="2"/>
<circle cx="378.4" cy="289.7" r="3.8" fill="none" stroke="#000" stroke-width="1.8"/>
<line x1="368" y1="314.7" x2="390" y2="314.7" stroke="#000" stroke-width="2"/>
<rect x="375" y="310.7" width="8" height="8" fill="none" stroke="#000" stroke-width="1.9"/>
<text x="395.3" y="294.3" font-size="13.3" font-weight="normal" text-anchor="start" fill="#1a1a1a" stroke="#1a1a1a" stroke-width="0.4" textLength="66.8" lengthAdjust="spacingAndGlyphs">2.4G2 Fab</text>
<text x="395.4" y="319.7" font-size="13.3" font-weight="normal" text-anchor="start" fill="#1a1a1a" stroke="#1a1a1a" stroke-width="0.4" textLength="106" lengthAdjust="spacingAndGlyphs">2.4G2 scFv-MSA</text>
<text x="225.1" y="372.9" font-size="13.9" font-weight="normal" text-anchor="middle" fill="#1a1a1a" stroke="#1a1a1a" stroke-width="0.4" textLength="173" lengthAdjust="spacingAndGlyphs" transform="rotate(-90 225.1 372.9)">Residual protein in serum</text>
<text x="243.6" y="376" font-size="13.9" font-weight="normal" text-anchor="middle" fill="#1a1a1a" stroke="#1a1a1a" stroke-width="0.4" textLength="203" lengthAdjust="spacingAndGlyphs" transform="rotate(-90 243.6 376)">(% mean log intensity at 0.5 hr)</text>
<text x="294.2" y="496.3" font-size="13.6" font-weight="normal" text-anchor="start" fill="#1a1a1a" stroke="#1a1a1a" stroke-width="0.4" textLength="211" lengthAdjust="spacingAndGlyphs">Time post-protein injection (hrs)</text>
</svg></body></html>
